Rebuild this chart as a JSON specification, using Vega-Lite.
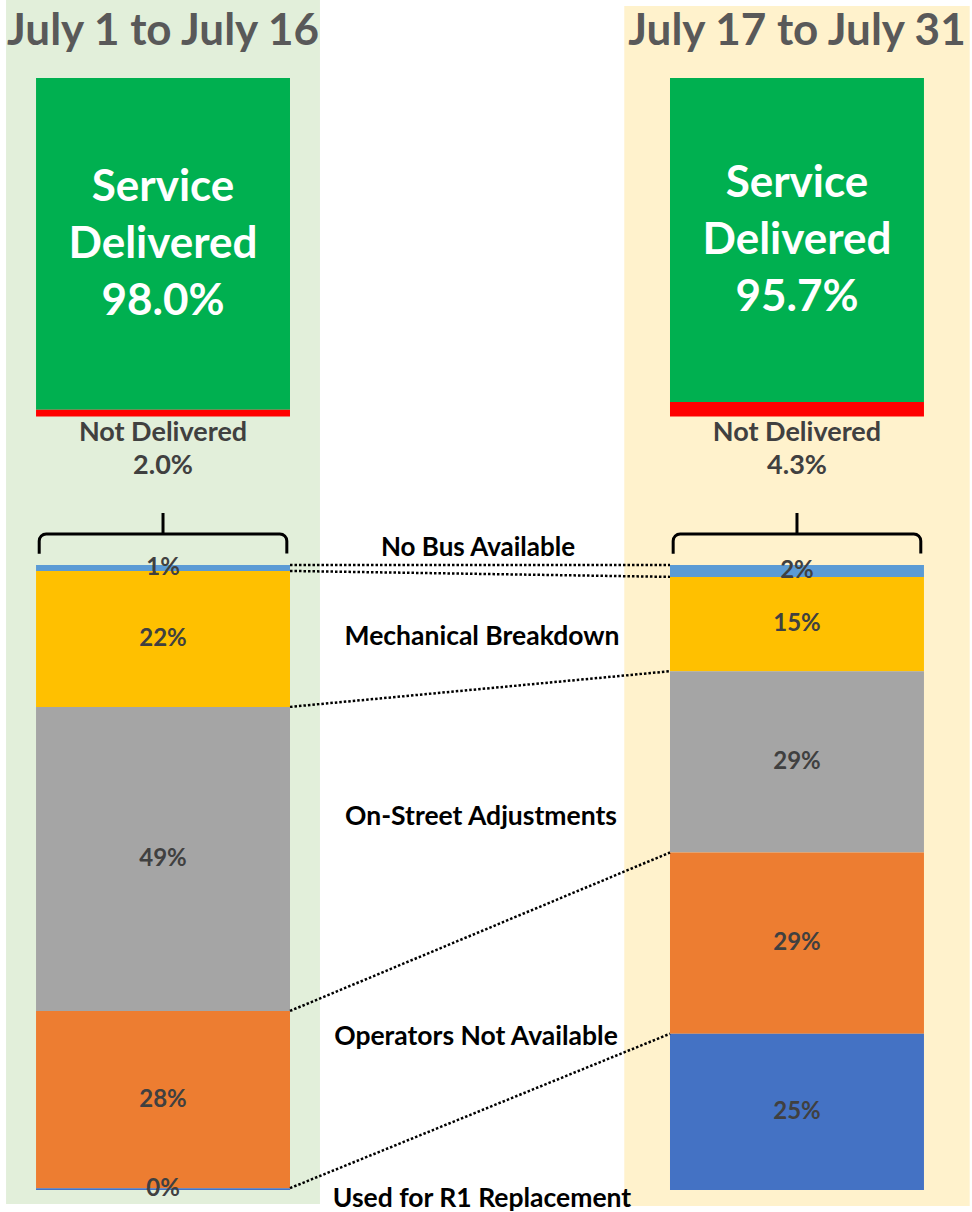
{
  "$schema": "https://vega.github.io/schema/vega-lite/v6.json",
  "width": 972,
  "height": 1212,
  "padding": 0,
  "autosize": {"type": "none"},
  "background": "white",
  "config": {"view": {"stroke": null}, "text": {"font": "Lato", "fontWeight": "bold"}},
  "datasets": {
    "periods": [
      {"period": "July 1 to July 16"},
      {"period": "July 17 to July 31"}
    ],
    "service": [
      {"period": "July 1 to July 16", "status": "Service Delivered", "share": 0.98, "order": 1},
      {"period": "July 1 to July 16", "status": "Not Delivered", "share": 0.02, "order": 2},
      {"period": "July 17 to July 31", "status": "Service Delivered", "share": 0.957, "order": 1},
      {"period": "July 17 to July 31", "status": "Not Delivered", "share": 0.043, "order": 2}
    ],
    "causes": [
      {"period": "July 1 to July 16", "cause": "No Bus Available", "share": 0.0095, "order": 1},
      {"period": "July 1 to July 16", "cause": "Mechanical Breakdown", "share": 0.2175, "order": 2},
      {"period": "July 1 to July 16", "cause": "On-Street Adjustments", "share": 0.4865, "order": 3},
      {"period": "July 1 to July 16", "cause": "Operators Not Available", "share": 0.2835, "order": 4},
      {"period": "July 1 to July 16", "cause": "Used for R1 Replacement", "share": 0.003, "order": 5},
      {"period": "July 17 to July 31", "cause": "No Bus Available", "share": 0.019, "order": 1},
      {"period": "July 17 to July 31", "cause": "Mechanical Breakdown", "share": 0.151, "order": 2},
      {"period": "July 17 to July 31", "cause": "On-Street Adjustments", "share": 0.29, "order": 3},
      {"period": "July 17 to July 31", "cause": "Operators Not Available", "share": 0.29, "order": 4},
      {"period": "July 17 to July 31", "cause": "Used for R1 Replacement", "share": 0.25, "order": 5}
    ]
  },
  "encoding": {
    "x": {
      "field": "period",
      "type": "nominal",
      "axis": null,
      "scale": {"domain": ["July 1 to July 16", "July 17 to July 31"], "paddingInner": 0.5994, "paddingOuter": 0.0663, "align": 0.4286, "round": false}
    }
  },
  "layer": [
    {
      "layer": [
        {
          "data": {"name": "periods"},
          "transform": [{"filter": "datum.period === 'July 1 to July 16'"}],
          "mark": {"type": "bar", "width": {"band": 1.236}, "color": "#E2EFDA"},
          "encoding": {
            "y": {"datum": -0.2304, "type": "quantitative", "axis": null, "scale": {"domain": [-0.2304, 3.3501], "reverse": true, "nice": false, "zero": false}},
            "y2": {"datum": 3.3264}
          }
        },
        {
          "data": {"name": "periods"},
          "transform": [{"filter": "datum.period === 'July 17 to July 31'"}],
          "mark": {"type": "bar", "width": {"band": 1.36}, "color": "#FFF2CC"},
          "encoding": {
            "y": {"datum": -0.2127, "type": "quantitative", "axis": null, "scale": {"domain": [-0.2304, 3.3501], "reverse": true, "nice": false, "zero": false}},
            "y2": {"datum": 3.3323}
          }
        },
        {
          "data": {"name": "periods"},
          "mark": {"type": "text", "fontSize": 44, "color": "#595959", "baseline": "alphabetic", "align": "center"},
          "encoding": {
            "y": {"datum": -0.0975, "type": "quantitative", "axis": null, "scale": {"domain": [-0.2304, 3.3501], "reverse": true, "nice": false, "zero": false}},
            "text": {"field": "period"}
          }
        },
        {
          "data": {"name": "service"},
          "transform": [
            {"stack": "share", "groupby": ["period"], "sort": [{"field": "order"}], "as": ["s0", "s1"]}
          ],
          "mark": {"type": "bar"},
          "encoding": {
            "y": {"field": "s0", "type": "quantitative", "axis": null, "scale": {"domain": [-0.2304, 3.3501], "reverse": true, "nice": false, "zero": false}},
            "y2": {"field": "s1"},
            "color": {"field": "status", "type": "nominal", "legend": null, "scale": {"domain": ["Service Delivered", "Not Delivered"], "range": ["#00B050", "#FF0000"]}}
          }
        },
        {
          "data": {"name": "service"},
          "transform": [
            {"stack": "share", "groupby": ["period"], "sort": [{"field": "order"}], "as": ["s0", "s1"]},
            {"calculate": "(datum.s0 + datum.s1) / 2", "as": "smid"},
            {"filter": "datum.status === 'Service Delivered'"}
          ],
          "mark": {"type": "text", "fontSize": 44, "color": "white", "baseline": "middle", "lineBreak": " ", "lineHeight": 57, "dy": -56},
          "encoding": {
            "y": {"field": "smid", "type": "quantitative", "axis": null, "scale": {"domain": [-0.2304, 3.3501], "reverse": true, "nice": false, "zero": false}},
            "text": {"field": "status"}
          }
        },
        {
          "data": {"name": "service"},
          "transform": [
            {"stack": "share", "groupby": ["period"], "sort": [{"field": "order"}], "as": ["s0", "s1"]},
            {"calculate": "(datum.s0 + datum.s1) / 2", "as": "smid"},
            {"filter": "datum.status === 'Service Delivered'"}
          ],
          "mark": {"type": "text", "fontSize": 44, "color": "white", "baseline": "middle", "dy": 58},
          "encoding": {
            "y": {"field": "smid", "type": "quantitative", "axis": null, "scale": {"domain": [-0.2304, 3.3501], "reverse": true, "nice": false, "zero": false}},
            "text": {"field": "share", "format": ".1%"}
          }
        },
        {
          "data": {"name": "service"},
          "transform": [
            {"stack": "share", "groupby": ["period"], "sort": [{"field": "order"}], "as": ["s0", "s1"]},
            {"filter": "datum.status === 'Not Delivered'"}
          ],
          "mark": {"type": "text", "fontSize": 27, "color": "#404040", "baseline": "middle", "dy": 16.5},
          "encoding": {
            "y": {"field": "s1", "type": "quantitative", "axis": null, "scale": {"domain": [-0.2304, 3.3501], "reverse": true, "nice": false, "zero": false}},
            "text": {"field": "status"}
          }
        },
        {
          "data": {"name": "service"},
          "transform": [
            {"stack": "share", "groupby": ["period"], "sort": [{"field": "order"}], "as": ["s0", "s1"]},
            {"filter": "datum.status === 'Not Delivered'"}
          ],
          "mark": {"type": "text", "fontSize": 27, "color": "#404040", "baseline": "middle", "dy": 49.5},
          "encoding": {
            "y": {"field": "s1", "type": "quantitative", "axis": null, "scale": {"domain": [-0.2304, 3.3501], "reverse": true, "nice": false, "zero": false}},
            "text": {"field": "share", "format": ".1%"}
          }
        }
      ]
    },
    {
      "layer": [
        {
          "data": {"name": "periods"},
          "mark": {"type": "bar", "width": {"band": 0.975}, "fill": "white", "fillOpacity": 0, "stroke": "black", "strokeWidth": 3, "cornerRadiusTopLeft": 7, "cornerRadiusTopRight": 7, "strokeDash": [257, 248.5, 40]},
          "encoding": {
            "y": {"datum": -0.0496, "type": "quantitative", "axis": null, "scale": {"domain": [-0.904, 1.0352], "reverse": true, "nice": false, "zero": false}},
            "y2": {"datum": -0.0176}
          }
        },
        {
          "data": {"name": "periods"},
          "mark": {"type": "rule", "stroke": "black", "strokeWidth": 3},
          "encoding": {
            "y": {"datum": -0.0832, "type": "quantitative", "axis": null, "scale": {"domain": [-0.904, 1.0352], "reverse": true, "nice": false, "zero": false}},
            "y2": {"datum": -0.0496}
          }
        },
        {
          "data": {"name": "causes"},
          "transform": [
            {"stack": "share", "groupby": ["period"], "sort": [{"field": "order"}], "as": ["c0", "c1"]}
          ],
          "mark": {"type": "bar"},
          "encoding": {
            "y": {"field": "c0", "type": "quantitative", "axis": null, "scale": {"domain": [-0.904, 1.0352], "reverse": true, "nice": false, "zero": false}},
            "y2": {"field": "c1"},
            "color": {"field": "cause", "type": "nominal", "legend": null, "scale": {"domain": ["No Bus Available", "Mechanical Breakdown", "On-Street Adjustments", "Operators Not Available", "Used for R1 Replacement"], "range": ["#5B9BD5", "#FFC000", "#A5A5A5", "#ED7D31", "#4472C4"]}}
          }
        },
        {
          "data": {"name": "causes"},
          "transform": [
            {"stack": "share", "groupby": ["period"], "sort": [{"field": "order"}], "as": ["c0", "c1"]},
            {"fold": ["c0", "c1"], "as": ["edge", "val"]},
            {"filter": "(datum.edge === 'c1' && datum.order < 5) || (datum.edge === 'c0' && datum.order === 1)"},
            {"pivot": "period", "value": "val", "groupby": ["cause", "edge"]}
          ],
          "mark": {"type": "rule", "stroke": "black", "strokeWidth": 2.5, "strokeDash": [2.5, 2]},
          "encoding": {
            "x": {"datum": "July 1 to July 16", "type": "nominal", "bandPosition": 1},
            "x2": {"datum": "July 17 to July 31", "bandPosition": 0},
            "y": {"field": "July 1 to July 16", "type": "quantitative", "axis": null, "scale": {"domain": [-0.904, 1.0352], "reverse": true, "nice": false, "zero": false}},
            "y2": {"field": "July 17 to July 31"}
          }
        },
        {
          "data": {"name": "causes"},
          "transform": [
            {"stack": "share", "groupby": ["period"], "sort": [{"field": "order"}], "as": ["c0", "c1"]},
            {"calculate": "(datum.c0 + datum.c1) / 2", "as": "cmid"}
          ],
          "mark": {"type": "text", "fontSize": 24, "color": "#404040", "baseline": "middle"},
          "encoding": {
            "y": {"field": "cmid", "type": "quantitative", "axis": null, "scale": {"domain": [-0.904, 1.0352], "reverse": true, "nice": false, "zero": false}},
            "text": {"field": "share", "format": ".0%"}
          }
        },
        {
          "data": {"name": "causes"},
          "transform": [{"filter": "datum.period === 'July 1 to July 16' && datum.cause === 'No Bus Available'"}],
          "mark": {"type": "text", "fontSize": 26, "color": "black", "baseline": "alphabetic", "dx": 188},
          "encoding": {
            "x": {"datum": "July 1 to July 16", "type": "nominal", "bandPosition": 1},
            "y": {"datum": -0.0144, "type": "quantitative", "axis": null, "scale": {"domain": [-0.904, 1.0352], "reverse": true, "nice": false, "zero": false}},
            "text": {"field": "cause"}
          }
        },
        {
          "data": {"name": "causes"},
          "transform": [{"filter": "datum.period === 'July 1 to July 16' && datum.cause === 'Mechanical Breakdown'"}],
          "mark": {"type": "text", "fontSize": 26.5, "color": "black", "baseline": "alphabetic", "dx": 192},
          "encoding": {
            "x": {"datum": "July 1 to July 16", "type": "nominal", "bandPosition": 1},
            "y": {"datum": 0.128, "type": "quantitative", "axis": null, "scale": {"domain": [-0.904, 1.0352], "reverse": true, "nice": false, "zero": false}},
            "text": {"field": "cause"}
          }
        },
        {
          "data": {"name": "causes"},
          "transform": [{"filter": "datum.period === 'July 1 to July 16' && datum.cause === 'On-Street Adjustments'"}],
          "mark": {"type": "text", "fontSize": 26.5, "color": "black", "baseline": "alphabetic", "dx": 191},
          "encoding": {
            "x": {"datum": "July 1 to July 16", "type": "nominal", "bandPosition": 1},
            "y": {"datum": 0.416, "type": "quantitative", "axis": null, "scale": {"domain": [-0.904, 1.0352], "reverse": true, "nice": false, "zero": false}},
            "text": {"field": "cause"}
          }
        },
        {
          "data": {"name": "causes"},
          "transform": [{"filter": "datum.period === 'July 1 to July 16' && datum.cause === 'Operators Not Available'"}],
          "mark": {"type": "text", "fontSize": 26.5, "color": "black", "baseline": "alphabetic", "dx": 186},
          "encoding": {
            "x": {"datum": "July 1 to July 16", "type": "nominal", "bandPosition": 1},
            "y": {"datum": 0.768, "type": "quantitative", "axis": null, "scale": {"domain": [-0.904, 1.0352], "reverse": true, "nice": false, "zero": false}},
            "text": {"field": "cause"}
          }
        },
        {
          "data": {"name": "causes"},
          "transform": [{"filter": "datum.period === 'July 1 to July 16' && datum.cause === 'Used for R1 Replacement'"}],
          "mark": {"type": "text", "fontSize": 26.5, "color": "black", "baseline": "alphabetic", "dx": 192},
          "encoding": {
            "x": {"datum": "July 1 to July 16", "type": "nominal", "bandPosition": 1},
            "y": {"datum": 1.0272, "type": "quantitative", "axis": null, "scale": {"domain": [-0.904, 1.0352], "reverse": true, "nice": false, "zero": false}},
            "text": {"field": "cause"}
          }
        }
      ]
    }
  ],
  "resolve": {"scale": {"y": "independent", "color": "independent"}}
}
